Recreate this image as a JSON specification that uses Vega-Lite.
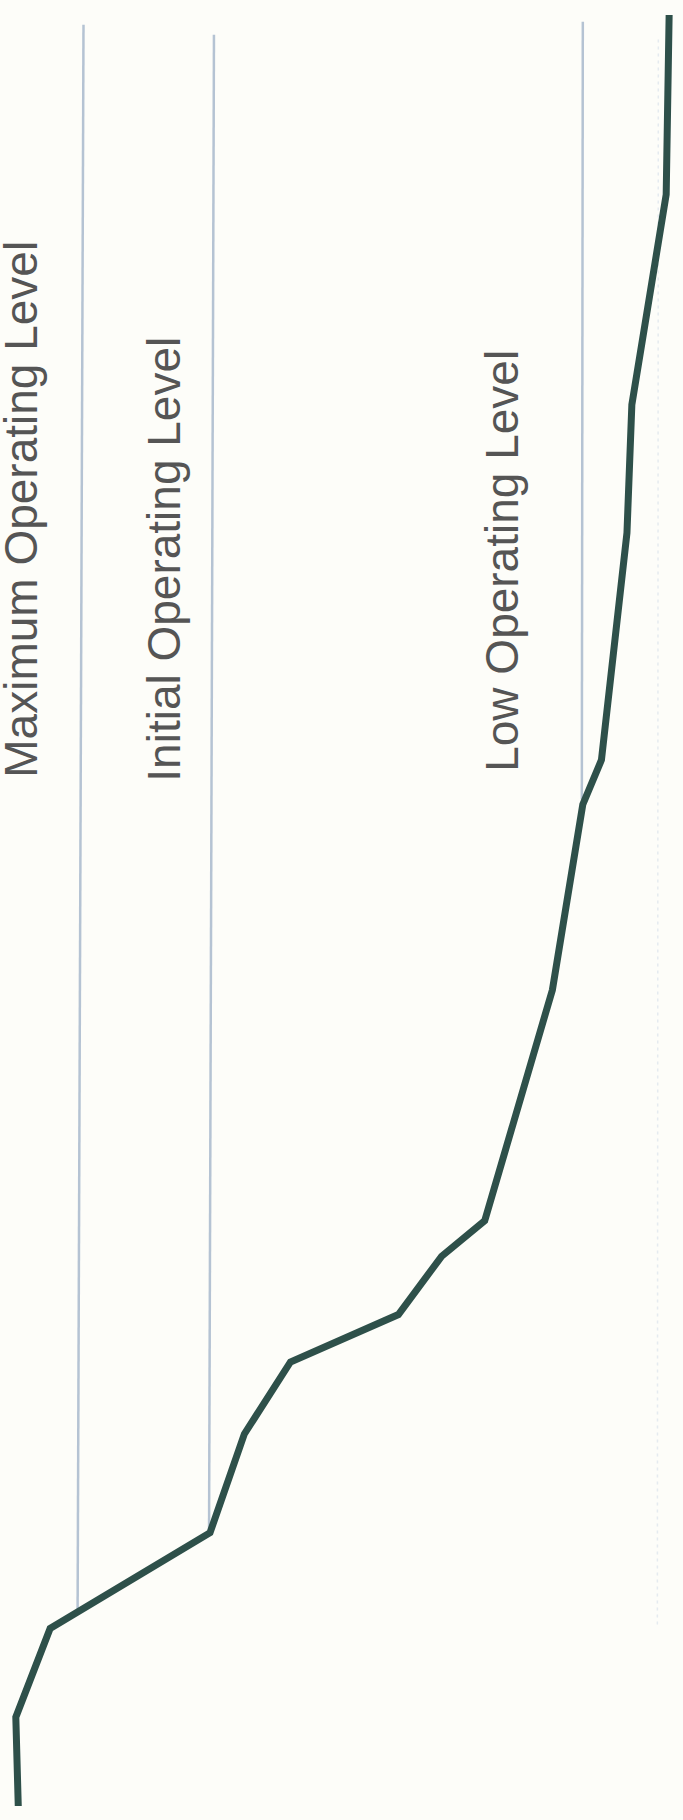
{
  "$schema": "https://vega.github.io/schema/vega-lite/v6.json",
  "autosize": {"type": "fit", "contains": "padding"},
  "width": 683,
  "height": 1820,
  "padding": 0,
  "background": "#fdfdf9",
  "config": {"view": {"stroke": null}},
  "datasets": {
    "curve": [
      {"t": 0, "level": 12.5},
      {"t": 90, "level": 10},
      {"t": 180, "level": 45},
      {"t": 277, "level": 208},
      {"t": 377, "level": 243},
      {"t": 450, "level": 290},
      {"t": 498, "level": 400},
      {"t": 557, "level": 444},
      {"t": 593, "level": 488},
      {"t": 827, "level": 557},
      {"t": 1015, "level": 588},
      {"t": 1060, "level": 607},
      {"t": 1290, "level": 633},
      {"t": 1420, "level": 638},
      {"t": 1633, "level": 673},
      {"t": 1815, "level": 676}
    ],
    "levels": [
      {"name": "Maximum Operating Level", "top_level": 79, "top_t": 1805, "end_level": 73, "end_t": 198, "label_level": 32, "label_t": 1042},
      {"name": "Initial Operating Level", "top_level": 212, "top_t": 1795, "end_level": 207, "end_t": 278, "label_level": 177, "label_t": 1038},
      {"name": "Low Operating Level", "top_level": 588, "top_t": 1808, "end_level": 587, "end_t": 1020, "label_level": 522, "label_t": 1048}
    ],
    "grid": [
      {"top_level": 665, "top_t": 1790, "end_level": 664, "end_t": 180}
    ]
  },
  "layer": [
    {
      "data": {"name": "grid"},
      "mark": {"type": "rule", "color": "#d6e0ea", "strokeWidth": 1.5, "strokeDash": [3, 4], "opacity": 0.6},
      "encoding": {
        "x": {"field": "top_level", "type": "quantitative", "scale": {"domain": [0, 683], "nice": false, "zero": false}, "axis": null},
        "y": {"field": "top_t", "type": "quantitative", "scale": {"domain": [0, 1820], "nice": false, "zero": false}, "axis": null},
        "x2": {"field": "end_level"},
        "y2": {"field": "end_t"}
      }
    },
    {
      "data": {"name": "levels"},
      "mark": {"type": "rule", "color": "#b5c3d3", "strokeWidth": 2.5},
      "encoding": {
        "x": {"field": "top_level", "type": "quantitative", "scale": {"domain": [0, 683], "nice": false, "zero": false}, "axis": null},
        "y": {"field": "top_t", "type": "quantitative", "scale": {"domain": [0, 1820], "nice": false, "zero": false}, "axis": null},
        "x2": {"field": "end_level"},
        "y2": {"field": "end_t"}
      }
    },
    {
      "data": {"name": "levels"},
      "mark": {"type": "text", "angle": 270, "align": "left", "baseline": "alphabetic", "font": "Liberation Sans", "fontSize": 46, "color": "#555555"},
      "encoding": {
        "x": {"field": "label_level", "type": "quantitative", "scale": {"domain": [0, 683], "nice": false, "zero": false}, "axis": null},
        "y": {"field": "label_t", "type": "quantitative", "scale": {"domain": [0, 1820], "nice": false, "zero": false}, "axis": null},
        "text": {"field": "name"}
      }
    },
    {
      "data": {"name": "curve"},
      "mark": {"type": "line", "color": "#2e504a", "strokeWidth": 7, "strokeJoin": "miter", "strokeCap": "butt"},
      "encoding": {
        "x": {"field": "level", "type": "quantitative", "scale": {"domain": [0, 683], "nice": false, "zero": false}, "axis": null},
        "y": {"field": "t", "type": "quantitative", "scale": {"domain": [0, 1820], "nice": false, "zero": false}, "axis": null},
        "order": {"field": "t", "type": "quantitative"}
      }
    }
  ]
}
